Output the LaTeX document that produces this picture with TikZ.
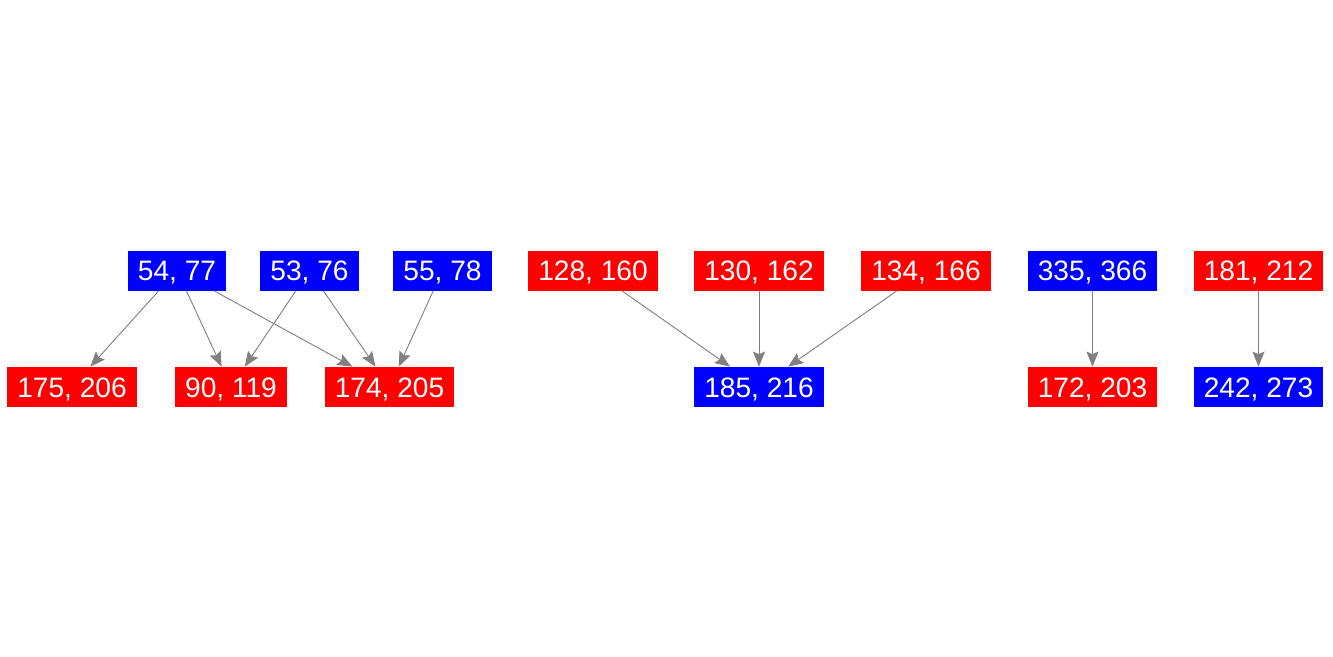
\documentclass[tikz,border=0pt]{standalone}
\usepackage{fontspec}
\setmainfont{Liberation Sans}
\usepackage{xcolor}
\usepackage{tikz}
\usetikzlibrary{arrows.meta,positioning}

\begin{document}
\begin{tikzpicture}[
  pair/.style={rectangle, inner xsep=0.2cm, inner ysep=0pt, minimum height=0.8cm, text height=0.4cm, text depth=0pt, text=white, font=\fontsize{16}{19}\selectfont},
  bluepair/.style={pair, fill=blue},
  redpair/.style={pair, fill=red},
  arr/.style={-{Stealth[length=0.3cm, width=0.24cm, inset=0.05cm]}, draw=gray, fill=gray, line width=0.5pt}
]
\useasboundingbox (0,0) rectangle (26.66,-13.12);

% First group
\node[bluepair] (p5477) at (3.54,-5.41) {54, 77};
\node[bluepair] (p5376) at (6.19,-5.41) {53, 76};
\node[bluepair] (p5578) at (8.85,-5.41) {55, 78};
\node[redpair] (p175206) at (1.44,-7.74) {175, 206};
\node[redpair] (p90119) at (4.62,-7.74) {90, 119};
\node[redpair] (p174205) at (7.79,-7.74) {174, 205};
\draw[arr] (p5477) -- (p175206);
\draw[arr] (p5477) -- (p90119);
\draw[arr] (p5477) -- (p174205);
\draw[arr] (p5376) -- (p90119);
\draw[arr] (p5376) -- (p174205);
\draw[arr] (p5578) -- (p174205);

% Second group
\node[redpair] (p128160) at (11.86,-5.41) {128, 160};
\node[redpair] (p130162) at (15.18,-5.41) {130, 162};
\node[redpair] (p134166) at (18.52,-5.41) {134, 166};
\node[bluepair] (p185216) at (15.18,-7.74) {185, 216};
\draw[arr] (p128160) -- (p185216);
\draw[arr] (p130162) -- (p185216);
\draw[arr] (p134166) -- (p185216);

% Single pairs
\node[bluepair] (p335366) at (21.85,-5.41) {335, 366};
\node[redpair] (p172203) at (21.85,-7.74) {172, 203};
\draw[arr] (p335366) -- (p172203);

\node[redpair] (p181212) at (25.17,-5.41) {181, 212};
\node[bluepair] (p242273) at (25.17,-7.74) {242, 273};
\draw[arr] (p181212) -- (p242273);

\end{tikzpicture}
\end{document}
